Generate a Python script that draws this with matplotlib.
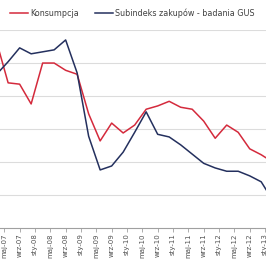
import matplotlib.pyplot as plt

# kwartalne punkty (mar-07 ... mar-13), wartosci
months = [-2 + 3 * i for i in range(25)]  # miesiace liczone od maj-07
konsumpcja = [28.2, 22.0, 21.8, 18.8, 25.0, 25.0, 23.9, 23.3, 17.3, 13.2,
              15.9, 14.4, 15.6, 18.0, 18.5, 19.2, 18.3, 18.0, 16.2, 13.6,
              15.6, 14.5, 12.0, 11.1, 10.0]
subindeks = [23.3, 25.2, 27.3, 26.4, 26.7, 27.0, 28.5, 23.5, 13.9, 8.8,
             9.4, 11.5, 14.5, 17.6, 14.2, 13.8, 12.6, 11.2, 9.8, 9.1,
             8.6, 8.6, 7.9, 7.0, 4.2]

tick_months = list(range(0, 69, 4))
tick_labels = ['maj-07', 'wrz-07', 'sty-08', 'maj-08', 'wrz-08', 'sty-09',
               'maj-09', 'wrz-09', 'sty-10', 'maj-10', 'wrz-10', 'sty-11',
               'maj-11', 'wrz-11', 'sty-12', 'maj-12', 'wrz-12', 'sty-13']

red = '#d42a3c'
navy = '#24305e'

fig = plt.figure(figsize=(2.66, 2.66), dpi=100)
ax = fig.add_axes([0, 0.1429, 1, 0.887 - 0.1429])

ax.plot(months, konsumpcja, color=red, linewidth=1.1, label='Konsumpcja')
ax.plot(months, subindeks, color=navy, linewidth=1.1,
        label='Subindeks zakupów - badania GUS')

ax.set_xlim(-1.12, 68.25)
ax.set_ylim(0, 30)
ax.set_yticks([5, 10, 15, 20, 25, 30])
ax.yaxis.grid(True, color='#dcdcdc', linewidth=0.8)
ax.set_axisbelow(True)
ax.tick_params(axis='y', left=False, labelleft=False)

ax.set_xticks(tick_months)
ax.set_xticklabels(tick_labels, rotation=90, fontsize=5, color='#505050')
ax.tick_params(axis='x', length=3, width=0.6, color='#a0a0a0', pad=1)

for s in ['top', 'left', 'right']:
    ax.spines[s].set_visible(False)
ax.spines['bottom'].set_color('#a0a0a0')
ax.spines['bottom'].set_linewidth(0.8)

fig.legend(loc='center left', bbox_to_anchor=(0.038, 0.951), ncol=2,
           frameon=False, fontsize=5.8, handlelength=2.2, handletextpad=0.3,
           columnspacing=2.0, borderaxespad=0, borderpad=0,
           labelcolor='#404040')

plt.savefig('out.png', dpi=100)
